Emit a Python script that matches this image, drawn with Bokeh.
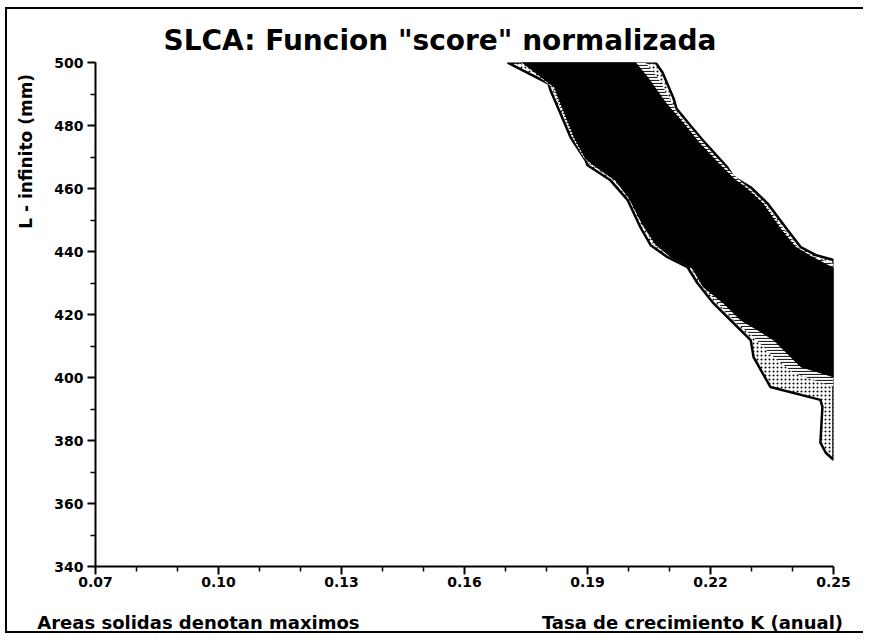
from bokeh.plotting import figure
from bokeh.models import FixedTicker, LinearAxis
from bokeh.embed import file_html
from bokeh.resources import INLINE

# ---- data ----
title_text = 'SLCA: Funcion "score" normalizada'
y_label_text = ["L - infinito (mm)"]
y_label_pos = [471.8]
bottom_texts = ["Areas solidas denotan maximos", "Tasa de crecimiento K (anual)"]
bottom_text_pos = [0.0951, 0.2156]

x_ticks = [0.07, 0.10, 0.13, 0.16, 0.19, 0.22, 0.25]
x_tick_labels = ["0.07", "0.10", "0.13", "0.16", "0.19", "0.22", "0.25"]
x_minor = [0.08, 0.09, 0.11, 0.12, 0.14, 0.15, 0.17, 0.18, 0.20, 0.21, 0.23, 0.24]
y_ticks = [340, 360, 380, 400, 420, 440, 460, 480, 500]
y_tick_labels = ["340", "360", "380", "400", "420", "440", "460", "480", "500"]
y_minor = [350, 370, 390, 410, 430, 450, 470, 490]

# outermost contour (lowest level, dotted)
k_level1 = [0.2066, 0.2083, 0.2110, 0.2117, 0.2151, 0.2188, 0.2241, 0.2256, 0.2298, 0.2339,
            0.2388, 0.2420, 0.2456, 0.2500, 0.2500, 0.2481, 0.2468, 0.2473, 0.2468, 0.2346,
            0.2305, 0.2298, 0.2256, 0.2207, 0.2168, 0.2144, 0.2095, 0.2054, 0.2029, 0.1998,
            0.1956, 0.1900, 0.1895, 0.1859, 0.1810, 0.1805, 0.1705]
l_level1 = [500.0, 496.8, 488.6, 485.4, 480.0, 474.3, 466.7, 463.6, 460.4, 455.3,
            446.8, 441.4, 438.9, 437.3, 373.9, 376.1, 379.3, 390.7, 392.9, 397.0,
            406.5, 411.9, 417.3, 423.6, 430.0, 435.0, 438.2, 442.0, 447.7, 456.3,
            462.6, 467.4, 469.0, 476.2, 491.1, 493.3, 500.0]

# middle contour (hatched)
k_level2 = [0.2041, 0.2073, 0.2102, 0.2122, 0.2161, 0.2205, 0.2249, 0.2293, 0.2334, 0.2380,
            0.2415, 0.2449, 0.2500, 0.2500, 0.2402, 0.2354, 0.2302, 0.2261, 0.2215, 0.2176,
            0.2151, 0.2102, 0.2061, 0.2037, 0.2005, 0.1963, 0.1907, 0.1890, 0.1863, 0.1822,
            0.1815, 0.1737]
l_level2 = [500.0, 494.9, 488.0, 483.2, 477.8, 471.2, 465.2, 460.1, 455.0, 446.8,
            441.1, 438.5, 436.0, 397.0, 401.5, 406.5, 413.2, 417.6, 424.0, 429.7,
            435.4, 438.5, 442.3, 448.0, 456.6, 462.9, 467.7, 469.9, 476.2, 489.5,
            492.1, 500.0]

# maximum (solid black)
k_level3 = [0.2017, 0.2049, 0.2090, 0.2132, 0.2171, 0.2217, 0.2261, 0.2285, 0.2327, 0.2373,
            0.2407, 0.2444, 0.2500, 0.2500, 0.2420, 0.2354, 0.2315, 0.2273, 0.2232, 0.2183,
            0.2156, 0.2107, 0.2066, 0.2034, 0.2002, 0.1968, 0.1912, 0.1895, 0.1868, 0.1827,
            0.1820, 0.1741]
l_level3 = [500.0, 494.9, 487.3, 481.0, 474.7, 468.3, 462.6, 460.4, 455.3, 446.8,
            441.4, 438.5, 434.7, 400.2, 403.4, 411.9, 415.1, 418.3, 423.6, 428.7,
            434.7, 437.9, 442.3, 448.7, 456.9, 462.6, 467.7, 469.6, 476.2, 489.5,
            492.1, 500.0]

FONT = "DejaVu Sans"

# ---- figure ----
p = figure(width=864, height=626, x_range=(0.07, 0.25), y_range=(340, 500),
           output_backend="svg", toolbar_location=None,
           min_border_left=88, min_border_right=38, min_border_top=53, min_border_bottom=68)
p.styles = {"margin-left": "5px", "margin-top": "7px",
            "border-left": "2px solid black", "border-top": "2px solid black",
            "border-bottom": "2px solid black", "clip-path": "inset(0px 6px 0px 0px)"}
p.background_fill_color = "white"
p.border_fill_color = "white"
p.outline_line_color = None
p.xgrid.visible = False
p.ygrid.visible = False

p.title.text = title_text
p.title.align = "left"
p.title.offset = 68
p.title.standoff = 12
p.title.text_font = FONT
p.title.text_font_size = "28px"
p.title.text_font_style = "bold"
p.title.text_color = "black"

p.patch(k_level1, l_level1, fill_color="white", hatch_pattern="dot", hatch_color="black",
        hatch_scale=4, hatch_weight=1.2, line_color="black", line_width=2.5)
p.patch(k_level2, l_level2, fill_color="white", hatch_pattern="horizontal_line",
        hatch_color="#222222", hatch_scale=3, hatch_weight=1.2, line_color=None)
p.patch(k_level3, l_level3, fill_color="black", line_color="black", line_width=1)

p.xaxis.ticker = FixedTicker(ticks=x_ticks, minor_ticks=x_minor)
p.yaxis.ticker = FixedTicker(ticks=y_ticks, minor_ticks=y_minor)
p.xaxis.major_label_overrides = dict(zip(x_ticks, x_tick_labels))
p.yaxis.major_label_overrides = dict(zip(y_ticks, y_tick_labels))

for ax in (p.xaxis, p.yaxis):
    ax.axis_line_width = 2
    ax.axis_line_color = "black"
    ax.major_tick_line_width = 2
    ax.major_tick_line_color = "black"
    ax.major_tick_in = 0
    ax.major_tick_out = 8
    ax.minor_tick_line_width = 1.5
    ax.minor_tick_line_color = "black"
    ax.minor_tick_in = 0
    ax.minor_tick_out = 5
    ax.major_label_text_font = FONT
    ax.major_label_text_font_style = "bold"
    ax.major_label_text_font_size = "14px"
    ax.major_label_text_color = "black"
p.xaxis.major_label_standoff = 2
p.yaxis.major_label_standoff = 4


def text_axis(ticks, labels, size, standoff, **kw):
    return LinearAxis(ticker=FixedTicker(ticks=ticks, minor_ticks=[]),
                      major_label_overrides=dict(zip(ticks, labels)),
                      axis_line_color=None, major_tick_line_color=None,
                      minor_tick_line_color=None, major_tick_in=0, major_tick_out=0,
                      minor_tick_in=0, minor_tick_out=0,
                      major_label_standoff=standoff, major_label_text_font=FONT,
                      major_label_text_font_style="bold", major_label_text_font_size=size,
                      major_label_text_color="black", **kw)


p.add_layout(text_axis(y_label_pos, y_label_text, "17px", 15,
                       major_label_orientation="vertical"), "left")
p.add_layout(text_axis(bottom_text_pos, bottom_texts, "18px", 22), "below")

open("out.html", "w").write(file_html(p, INLINE))
